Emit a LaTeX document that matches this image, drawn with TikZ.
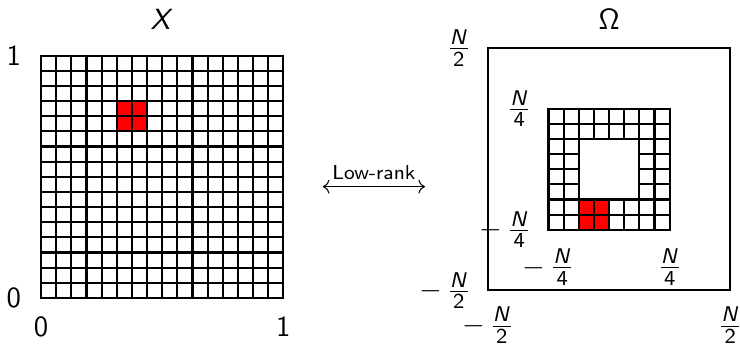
\documentclass[tikz,border=0pt]{standalone}
\usepackage{amsmath,amssymb}
\usepackage{xcolor}
\usepackage{tikz}
\usetikzlibrary{
  arrows.meta,
  positioning,
  calc
}
\DeclareMathAlphabet{\mathsfsl}{OT1}{cmss}{m}{sl}
\newcommand{\nfrac}[2]{\frac{\mathsfsl{#1}}{\mathsf{#2}}}
\definecolor{cellred}{HTML}{FF0000}
\tikzset{
  gridline/.style={
    thick, line cap=rect, step=0.2cm
  },
  frameline/.style={
    thick
  },
  redcell/.style={
    fill=cellred
  },
  axlabel/.style={
    font=\sffamily\fontsize{11}{13}\selectfont, inner sep=0pt
  },
  lrarrow/.style={
    <->, thin
  },
  lrlabel/.style={
    font=\sffamily\fontsize{7.6}{9}\selectfont, inner sep=2.5pt
  },
}

\begin{document}
\begin{tikzpicture}[x=0.2cm, y=0.2cm]
  \useasboundingbox (-2.706,-3.234) rectangle (46.14,19.67);

  %% Left panel: the grid on X
  \fill[redcell] (5,11) rectangle (7,13);
  \draw[gridline] (0,0) grid (16,16);

  \node[axlabel] (xname) at (8,18.4) {$\mathsfsl{X}$};
  \node[axlabel] (ytop)  at (-1.8,16) {1};
  \node[axlabel] (ybot)  at (-1.8,0)  {0};
  \node[axlabel] (xleft) at (0,-1.9)  {0};
  \node[axlabel] (xright) at (16,-1.9) {1};

  %% Right panel: the ring in Omega
  \draw[frameline] (29.5,0.5) rectangle (45.5,16.5);
  \begin{scope}[shift={(33.5,4.5)}]
    \fill[redcell] (2,0) rectangle (4,2);
    \foreach \a/\b/\c/\d in {0/0/8/2, 0/6/8/8, 0/2/2/6, 6/2/8/6}
      \draw[gridline] (\a,\b) grid (\c,\d);
  \end{scope}

  \node[axlabel] (oname) at (37.5,18.4) {$\mathsf{\Omega}$};
  \node[axlabel, anchor=east] (otop)  at (28.4,16.5) {$\nfrac{N}{2}$};
  \node[axlabel, anchor=east] (obot)  at (28.4,0.5)  {$-\,\nfrac{N}{2}$};
  \node[axlabel, anchor=east] (itop)  at (32.4,12.5) {$\nfrac{N}{4}$};
  \node[axlabel, anchor=east] (ibot)  at (32.4,4.5)  {$-\,\nfrac{N}{4}$};
  \node[axlabel] (ileft)  at (33.5,2.05) {$-\,\nfrac{N}{4}$};
  \node[axlabel] (iright) at (41.5,2.05) {$\nfrac{N}{4}$};
  \node[axlabel] (oleft)  at (29.5,-1.8) {$-\,\nfrac{N}{2}$};
  \node[axlabel] (oright) at (45.5,-1.8) {$\nfrac{N}{2}$};

  %% Low-rank link between the panels
  \coordinate (lrL) at (18.6,7.35);
  \coordinate (lrR) at (25.35,7.35);
  \draw[lrarrow] (lrL) -- node[lrlabel, above] (lrtext) {Low-rank} (lrR);

\end{tikzpicture}
\end{document}
